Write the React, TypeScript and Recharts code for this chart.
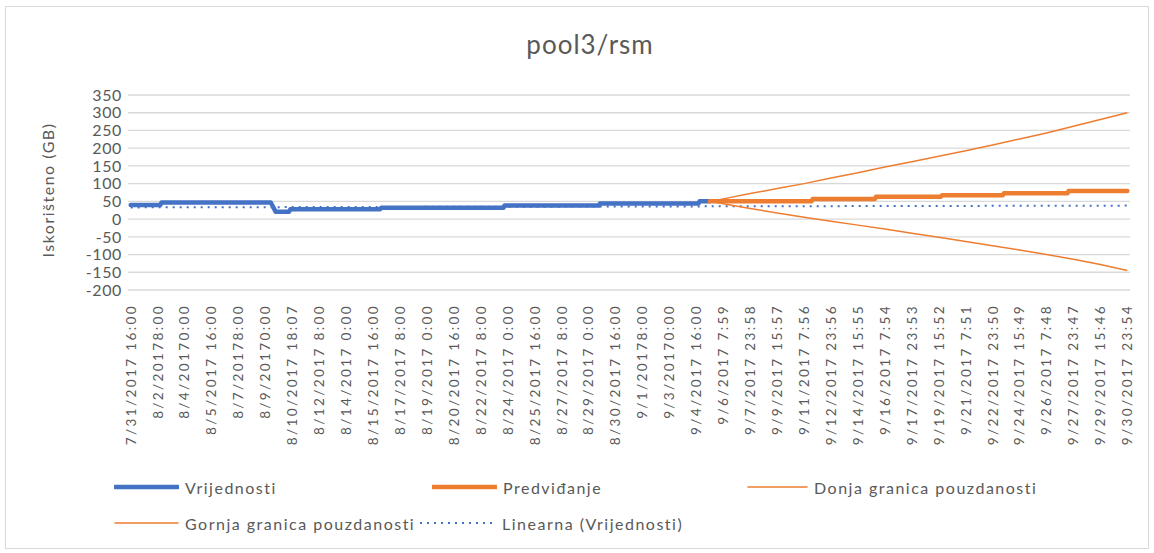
import React from 'react';
import { LineChart, Line, XAxis, YAxis, CartesianGrid } from 'recharts';

// ---- category tick labels (one every 40 hours) ----
const tickLabels: string[] = [
  '7/31/2017 16:00', '8/2/20178:00', '8/4/20170:00', '8/5/2017 16:00', '8/7/20178:00',
  '8/9/20170:00', '8/10/2017 18:07', '8/12/2017 8:00', '8/14/2017 0:00', '8/15/2017 16:00',
  '8/17/2017 8:00', '8/19/2017 0:00', '8/20/2017 16:00', '8/22/2017 8:00', '8/24/2017 0:00',
  '8/25/2017 16:00', '8/27/2017 8:00', '8/29/2017 0:00', '8/30/2017 16:00', '9/1/20178:00',
  '9/3/20170:00', '9/4/2017 16:00', '9/6/2017 7:59', '9/7/2017 23:58', '9/9/2017 15:57',
  '9/11/2017 7:56', '9/12/2017 23:56', '9/14/2017 15:55', '9/16/2017 7:54', '9/17/2017 23:53',
  '9/19/2017 15:52', '9/21/2017 7:51', '9/22/2017 23:50', '9/24/2017 15:49', '9/26/2017 7:48',
  '9/27/2017 23:47', '9/29/2017 15:46', '9/30/2017 23:54',
];
const tickPositions: number[] = tickLabels.map((_, i) => i);
const yTicks: number[] = [-200, -150, -100, -50, 0, 50, 100, 150, 200, 250, 300, 350];

// ---- series (x = position in label units) ----
const actualX: number[] = [0, 1.1, 1.15, 5.2, 5.38, 5.88, 5.93, 9.26, 9.3, 13.84, 13.88, 17.38, 17.42, 21.08, 21.12, 21.5];
const actualY: number[] = [40, 40, 47, 47, 21, 21, 28, 28, 32, 32, 38, 38, 44, 44, 50, 50];

const forecastX: number[] = [21.5, 25.28, 25.32, 27.63, 27.67, 30.08, 30.12, 32.38, 32.42, 34.78, 34.82, 37];
const forecastY: number[] = [50, 50, 57, 57, 63, 63, 67, 67, 73, 73, 79, 79];

const boundX: number[] = [21.5, 22, 23, 24, 25, 26, 27, 28, 29, 30, 31, 32, 33, 34, 35, 36, 37];
const lowerY: number[] = [50, 43, 30, 17, 5, -6, -17, -28, -40, -51, -63, -75, -87, -100, -113, -128, -145];
const upperY: number[] = [50, 57, 72, 86, 100, 116, 131, 147, 162, 177, 193, 209, 226, 243, 262, 281, 300];

const trendX: number[] = [0, 37];
const trendY: number[] = [33, 38];

const toPts = (xs: number[], ys: number[]) => xs.map((x, i) => ({ x, y: ys[i] }));
const actualData = toPts(actualX, actualY);
const forecastData = toPts(forecastX, forecastY);
const lowerData = toPts(boundX, lowerY);
const upperData = toPts(boundX, upperY);
const trendData = toPts(trendX, trendY);

const BLUE = '#4472C4';
const ORANGE = '#ED7D31';
const TEXT = '#595959';
const FONT = 'Lato, "Open Sans", sans-serif';

const XTick = (props: any) => {
  const { x, y, payload } = props;
  return (
    <text
      transform={`translate(${x},${y}) rotate(-90)`}
      textAnchor="end"
      dy="0.36em"
      fill={TEXT}
      fontSize={13.5}
      fontFamily={FONT}
      letterSpacing={2.4}
    >
      {tickLabels[payload.value]}
    </text>
  );
};

const YTick = (props: any) => {
  const { x, y, payload } = props;
  return (
    <text x={x} y={y} dy="0.36em" textAnchor="end" fill={TEXT} fontSize={16} fontFamily={FONT} letterSpacing={0.6}>
      {payload.value}
    </text>
  );
};

const LegendItem = ({ left, top, lineW, color, width, dash, label }: any) => (
  <div style={{ position: 'absolute', left, top, display: 'flex', alignItems: 'center', height: 20 }}>
    <svg width={lineW} height={10} style={{ display: 'block' }}>
      <line x1={1} y1={5} x2={lineW - 1} y2={5} stroke={color} strokeWidth={width} strokeDasharray={dash} strokeLinecap={dash ? 'butt' : 'round'} />
    </svg>
    <span style={{ marginLeft: 6, fontFamily: FONT, fontSize: 16, color: TEXT, letterSpacing: 1.5, whiteSpace: 'nowrap' }}>{label}</span>
  </div>
);

export default function App() {
  return (
    <div style={{ position: 'absolute', left: 0, top: 0, width: 1154, height: 553, background: '#fff', overflow: 'hidden' }}>
      <div style={{ position: 'absolute', left: 5, top: 6, width: 1142, height: 541, border: '1px solid #D9D9D9' }} />
      <div style={{ position: 'absolute', left: 0, top: 28, width: 1180, textAlign: 'center', fontFamily: FONT, fontSize: 26, color: TEXT, letterSpacing: 1 }}>
        pool3/rsm
      </div>
      <div
        style={{
          position: 'absolute', left: 47, top: 190, transform: 'translate(-50%,-50%) rotate(-90deg)',
          fontFamily: FONT, fontSize: 16, color: TEXT, letterSpacing: 1.5, whiteSpace: 'nowrap',
        }}
      >
        Iskorišteno (GB)
      </div>
      <div style={{ position: 'absolute', left: 0, top: 0 }}>
        <LineChart width={1154} height={553} margin={{ top: 95, right: 24, bottom: 88, left: 48 }}>
          <CartesianGrid vertical={false} stroke="#D9D9D9" strokeWidth={1.3} />
          <XAxis
            type="number"
            dataKey="x"
            domain={[-0.1, 37.1]}
            ticks={tickPositions}
            interval={0}
            allowDataOverflow
            axisLine={false}
            tickLine={false}
            tickSize={0}
            tickMargin={14}
            height={175}
            tick={<XTick />}
          />
          <YAxis
            type="number"
            domain={[-200, 350]}
            ticks={yTicks}
            interval={0}
            axisLine={false}
            tickLine={false}
            tickSize={0}
            tickMargin={6}
            width={80}
            tick={<YTick />}
          />
          <Line data={trendData} dataKey="y" stroke={BLUE} strokeWidth={2} strokeDasharray="2 5" dot={false} isAnimationActive={false} />
          <Line data={actualData} dataKey="y" stroke={BLUE} strokeWidth={4.5} strokeLinejoin="round" strokeLinecap="round" dot={false} isAnimationActive={false} />
          <Line data={forecastData} dataKey="y" stroke={ORANGE} strokeWidth={4.5} strokeLinejoin="round" strokeLinecap="round" dot={false} isAnimationActive={false} />
          <Line data={lowerData} dataKey="y" stroke={ORANGE} strokeWidth={1.5} dot={false} isAnimationActive={false} />
          <Line data={upperData} dataKey="y" stroke={ORANGE} strokeWidth={1.5} dot={false} isAnimationActive={false} />
        </LineChart>
      </div>
      <LegendItem left={114} top={477} lineW={65} color={BLUE} width={4.5} label="Vrijednosti" />
      <LegendItem left={432} top={477} lineW={65} color={ORANGE} width={4.5} label="Predviđanje" />
      <LegendItem left={747} top={477} lineW={61} color={ORANGE} width={1.5} label="Donja granica pouzdanosti" />
      <LegendItem left={114} top={513} lineW={65} color={ORANGE} width={1.5} label="Gornja granica pouzdanosti" />
      <LegendItem left={419} top={513} lineW={77} color={BLUE} width={2} dash="2 5" label="Linearna (Vrijednosti)" />
    </div>
  );
}
